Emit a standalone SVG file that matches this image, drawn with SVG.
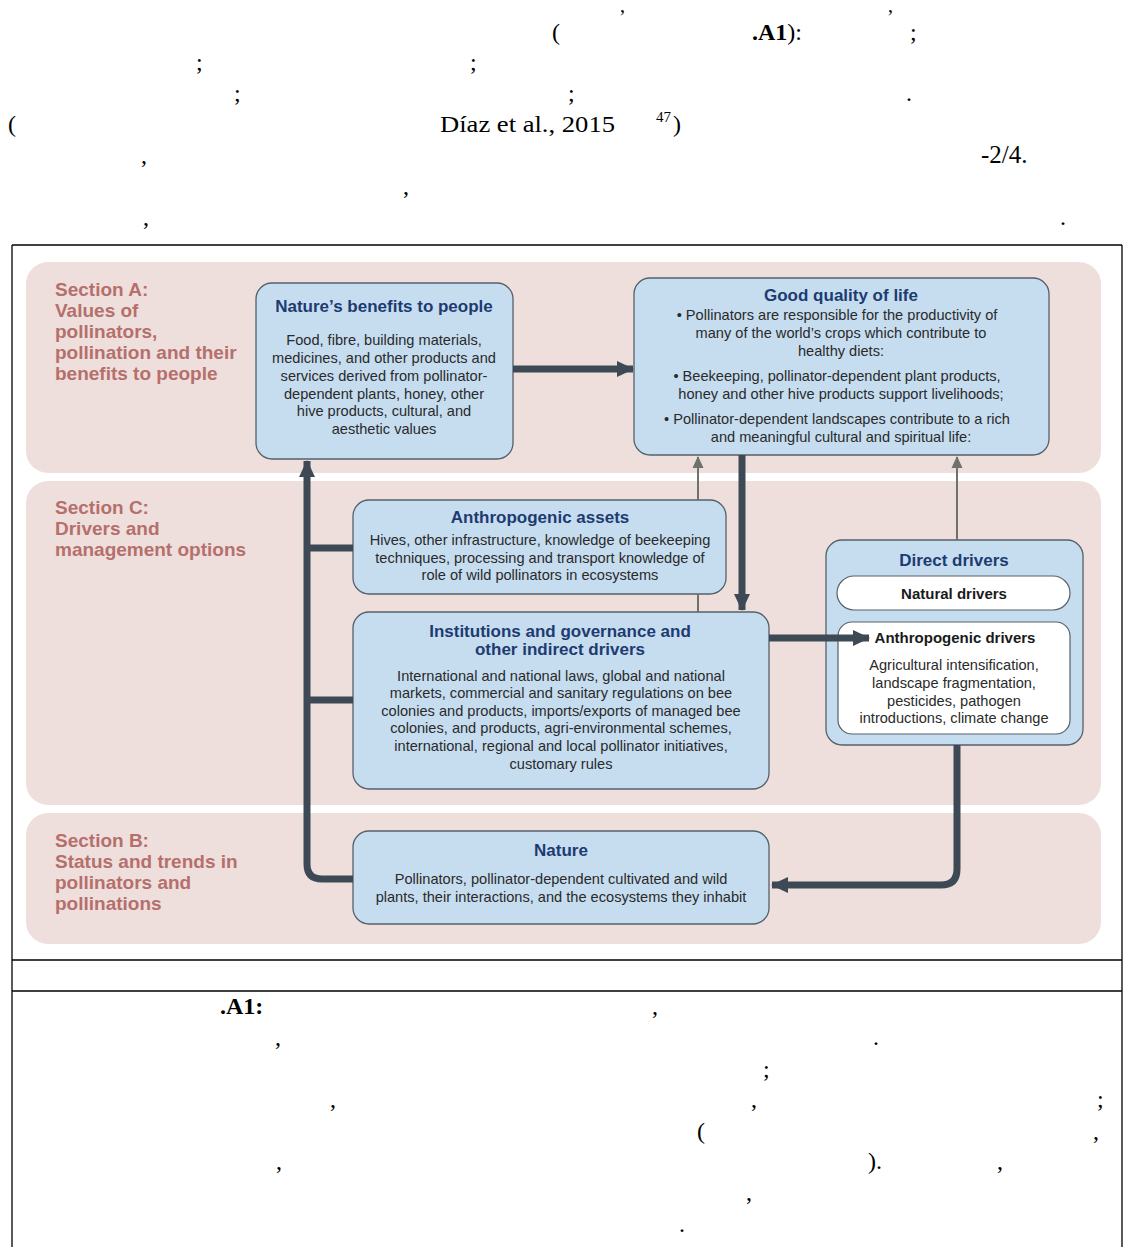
<svg xmlns="http://www.w3.org/2000/svg" width="1128" height="1247" viewBox="0 0 1128 1247">
<style>
.pt{font-family:"Liberation Serif","Times New Roman",serif;font-size:24px;font-weight:normal;fill:#000}
.ptb{font-family:"Liberation Serif","Times New Roman",serif;font-size:24px;font-weight:bold;fill:#000}
.band{fill:#eedfdc}
.sec{font-family:"Liberation Sans",Arial,sans-serif;font-size:19px;font-weight:bold;fill:#b56f6c}
.box{fill:#c6ddf0;stroke:#55606a;stroke-width:1.3}
.wbox{fill:#ffffff;stroke:#55606a;stroke-width:1.2}
.ttl{font-family:"Liberation Sans",Arial,sans-serif;font-size:17px;font-weight:bold;fill:#1d3b70;text-anchor:middle}
.sub{font-family:"Liberation Sans",Arial,sans-serif;font-size:15px;font-weight:bold;fill:#1a1a1a;text-anchor:middle}
.bd{font-family:"Liberation Sans",Arial,sans-serif;font-size:14.6px;fill:#2a2a2a;text-anchor:middle}
.thick{fill:none;stroke:#3d4a56;stroke-width:7}
.thin{fill:none;stroke:#6e7268;stroke-width:2}
.frame{stroke:#000;stroke-width:1.3;fill:none}
</style>
<defs>
<marker id="ah" markerUnits="userSpaceOnUse" markerWidth="18" markerHeight="18" refX="16" refY="9" orient="auto">
<path d="M0,1 L17,9 L0,17 z" fill="#3d4a56"/>
</marker>
<marker id="at" markerUnits="userSpaceOnUse" markerWidth="12" markerHeight="12" refX="11" refY="6" orient="auto">
<path d="M0,0.5 L12,6 L0,11.5 z" fill="#6e7268"/>
</marker>
</defs>
<rect width="1128" height="1247" fill="#ffffff"/>

<g id="top-text">
<text class="pt" x="620" y="12" style="font-size:20px">,</text>
<text class="pt" x="888" y="12" style="font-size:20px">,</text>
<text class="pt" x="552" y="40">(</text>
<text class="ptb" x="752" y="40">.A1<tspan class="pt">):</tspan></text>
<text class="pt" x="910" y="40">;</text>
<text class="pt" x="196" y="70">;</text>
<text class="pt" x="470" y="70">;</text>
<text class="pt" x="234" y="101">;</text>
<text class="pt" x="568" y="101">;</text>
<text class="pt" x="906" y="101">.</text>
<text class="pt" x="8" y="132">(</text>
<text class="pt" x="440" y="132" textLength="175" lengthAdjust="spacingAndGlyphs">Díaz et al., 2015</text>
<text class="pt" x="656" y="122" style="font-size:15px">47</text>
<text class="pt" x="673" y="132">)</text>
<text class="pt" x="141" y="163">,</text>
<text class="pt" x="981" y="163" style="font-size:25px">-2/4.</text>
<text class="pt" x="403" y="194">,</text>
<text class="pt" x="143" y="225">,</text>
<text class="pt" x="1060" y="225">.</text>
</g>

<g id="frame">
<line class="frame" x1="12" y1="245" x2="1122" y2="245"/>
<line class="frame" x1="12" y1="245" x2="12" y2="1247"/>
<line class="frame" x1="1122" y1="245" x2="1122" y2="1247"/>
<line class="frame" x1="12" y1="960" x2="1122" y2="960"/>
<line class="frame" x1="12" y1="991" x2="1122" y2="991"/>
</g>

<g id="bands">
<rect class="band" x="26" y="262" width="1075" height="211" rx="22"/>
<rect class="band" x="26" y="481" width="1075" height="324" rx="22"/>
<rect class="band" x="26" y="813" width="1075" height="131" rx="22"/>
</g>

<g id="section-a">
<text class="sec" x="55" y="296">Section A:</text>
<text class="sec" x="55" y="317">Values of</text>
<text class="sec" x="55" y="338">pollinators,</text>
<text class="sec" x="55" y="359">pollination and their</text>
<text class="sec" x="55" y="380">benefits to people</text>
</g>
<g id="section-c">
<text class="sec" x="55" y="514">Section C:</text>
<text class="sec" x="55" y="535">Drivers and</text>
<text class="sec" x="55" y="556">management options</text>
</g>
<g id="section-b">
<text class="sec" x="55" y="847">Section B:</text>
<text class="sec" x="55" y="868">Status and trends in</text>
<text class="sec" x="55" y="889">pollinators and</text>
<text class="sec" x="55" y="910">pollinations</text>
</g>

<g id="natures-benefits">
<rect class="box" x="256" y="283" width="257" height="176" rx="16"/>
<text class="ttl" x="384" y="312">Nature’s benefits to people</text>
<text class="bd" x="384" y="345">Food, fibre, building materials,</text>
<text class="bd" x="384" y="363">medicines, and other products and</text>
<text class="bd" x="384" y="381">services derived from pollinator-</text>
<text class="bd" x="384" y="399">dependent plants, honey, other</text>
<text class="bd" x="384" y="416">hive products,  cultural, and</text>
<text class="bd" x="384" y="434">aesthetic values</text>
</g>

<g id="good-quality">
<rect class="box" x="634" y="278" width="415" height="177" rx="16"/>
<text class="ttl" x="841" y="301">Good quality of life</text>
<text class="bd" x="837" y="320">• Pollinators are responsible for the productivity of</text>
<text class="bd" x="841" y="338">many of the world’s crops which contribute to</text>
<text class="bd" x="841" y="356">healthy diets:</text>
<text class="bd" x="837" y="381">• Beekeeping, pollinator-dependent plant products,</text>
<text class="bd" x="841" y="399">honey and other hive products support livelihoods;</text>
<text class="bd" x="837" y="424">• Pollinator-dependent landscapes contribute to a rich</text>
<text class="bd" x="841" y="442">and meaningful cultural and spiritual life:</text>
</g>

<g id="anthropogenic-assets">
<rect class="box" x="353" y="500" width="373" height="94" rx="16"/>
<text class="ttl" x="540" y="523">Anthropogenic assets</text>
<text class="bd" x="540" y="545">Hives, other infrastructure, knowledge of beekeeping</text>
<text class="bd" x="540" y="563">techniques, processing and transport knowledge of</text>
<text class="bd" x="540" y="580">role of wild pollinators in ecosystems</text>
</g>

<g id="institutions">
<rect class="box" x="353" y="612" width="416" height="177" rx="16"/>
<text class="ttl" x="560" y="637">Institutions and governance and</text>
<text class="ttl" x="560" y="655">other indirect drivers</text>
<text class="bd" x="561" y="681">International and national laws, global and national</text>
<text class="bd" x="561" y="698">markets, commercial and sanitary regulations on bee</text>
<text class="bd" x="561" y="716">colonies and products, imports/exports of managed bee</text>
<text class="bd" x="561" y="733">colonies, and products, agri-environmental schemes,</text>
<text class="bd" x="561" y="751">international, regional and local pollinator initiatives,</text>
<text class="bd" x="561" y="769">customary rules</text>
</g>

<g id="direct-drivers">
<rect class="box" x="826" y="540" width="257" height="205" rx="16"/>
<text class="ttl" x="954" y="566">Direct drivers</text>
<g id="natural-drivers">
<rect class="wbox" x="837" y="576" width="233" height="34" rx="17"/>
<text class="sub" x="954" y="599">Natural drivers</text>
</g>
<g id="anthropogenic-drivers">
<rect class="wbox" x="838" y="622" width="232" height="112" rx="14"/>
<text class="sub" x="955" y="643">Anthropogenic drivers</text>
<text class="bd" x="954" y="670">Agricultural intensification,</text>
<text class="bd" x="954" y="688">landscape fragmentation,</text>
<text class="bd" x="954" y="706">pesticides, pathogen</text>
<text class="bd" x="954" y="723">introductions, climate change</text>
</g>
</g>

<g id="nature">
<rect class="box" x="353" y="831" width="416" height="93" rx="16"/>
<text class="ttl" x="561" y="856">Nature</text>
<text class="bd" x="561" y="884">Pollinators, pollinator-dependent cultivated and wild</text>
<text class="bd" x="561" y="902">plants, their interactions, and the ecosystems they inhabit</text>
</g>

<g id="connectors">
<path class="thick" d="M513,369 H633" marker-end="url(#ah)"/>
<path class="thick" d="M742,455 V610" marker-end="url(#ah)"/>
<path class="thick" d="M769,638 H869" marker-end="url(#ah)"/>
<path class="thick" d="M957,745 V869 Q957,885 941,885 H772" marker-end="url(#ah)"/>
<path class="thick" d="M353,879 H322 Q307,879 307,864 V461" marker-end="url(#ah)"/>
<path class="thick" d="M307,548 H353"/>
<path class="thick" d="M307,700 H353"/>
<path class="thin" d="M698,500 V457" marker-end="url(#at)"/>
<path class="thin" d="M698,594 V612"/>
<path class="thin" d="M957,540 V457" marker-end="url(#at)"/>
</g>

<g id="bottom-text">
<text class="ptb" x="220" y="1014">.A1:</text>
<text class="pt" x="652" y="1014">,</text>
<text class="pt" x="275" y="1045">,</text>
<text class="pt" x="873" y="1045">.</text>
<text class="pt" x="763" y="1077">;</text>
<text class="pt" x="330" y="1107">,</text>
<text class="pt" x="751" y="1107">,</text>
<text class="pt" x="1097" y="1107">;</text>
<text class="pt" x="697" y="1139">(</text>
<text class="pt" x="1093" y="1139">,</text>
<text class="pt" x="276" y="1169">,</text>
<text class="pt" x="868" y="1169">).</text>
<text class="pt" x="997" y="1169">,</text>
<text class="pt" x="746" y="1200">,</text>
<text class="pt" x="679" y="1232">.</text>
</g>
</svg>
